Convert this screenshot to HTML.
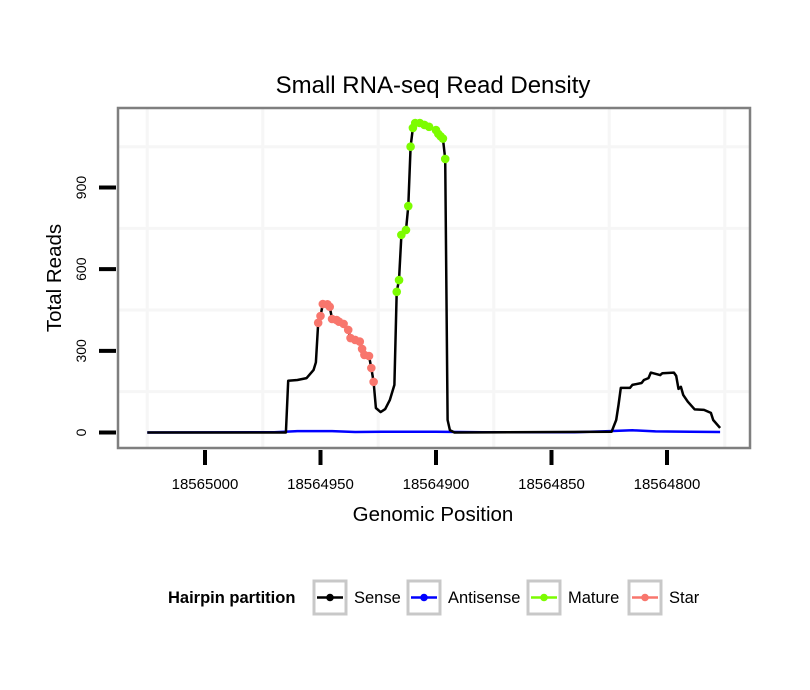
<!DOCTYPE html>
<html><head><meta charset="utf-8">
<style>
html,body{margin:0;padding:0;background:#fff;}
svg{display:block;font-family:"Liberation Sans",sans-serif;}
</style></head>
<body>
<svg id="chart" width="810" height="690" viewBox="0 0 810 690">
<rect x="0" y="0" width="810" height="690" fill="#fff"/>
<text x="433" y="93" text-anchor="middle" font-size="24" fill="#000">Small RNA-seq Read Density</text>
<rect x="118" y="108" width="632" height="340" fill="#fff"/>
<g id="grid"></g>
<g id="series"></g>
<rect x="118" y="108" width="632" height="340" fill="none" stroke="#7f7f7f" stroke-width="2.5"/>
<g id="axes"></g>
<text x="433" y="521" text-anchor="middle" font-size="20.5">Genomic Position</text>
<text transform="translate(61,278) rotate(-90)" text-anchor="middle" font-size="20.5">Total Reads</text>
<g id="legend">
<text x="168" y="603" font-size="16.5" font-weight="bold">Hairpin partition</text>
</g>
</svg>
<script>
const xTicks = [18565000, 18564950, 18564900, 18564850, 18564800];
const xMinor = [18565025, 18564975, 18564925, 18564875, 18564825, 18564775];
const yTicks = [0, 300, 600, 900];
const yMinor = [150, 450, 750, 1050];
const sensePos = [18565025,18564965,18564964,18564960,18564956,18564953,18564952,18564951,18564950,18564949,18564947,18564946,18564945,18564943,18564942,18564940,18564938,18564937,18564935,18564933,18564932,18564931,18564929,18564928,18564927,18564926,18564924,18564922,18564920,18564918,18564917,18564916,18564915,18564913,18564912,18564911,18564910,18564909,18564907,18564905,18564903,18564900,18564899,18564898,18564897,18564896,18564895,18564894,18564892,18564824,18564822,18564821,18564820,18564816,18564815,18564811,18564810,18564808,18564807,18564803,18564802,18564797,18564796,18564795,18564794,18564793,18564791,18564788,18564784,18564781,18564780,18564777];
const senseVal = [0,0,190,193,200,230,258,403,428,472,471,462,417,413,407,399,377,347,340,334,307,285,281,237,186,90,75,86,119,175,517,560,726,744,832,1050,1119,1137,1137,1130,1123,1111,1097,1088,1080,1005,46,9,0,3,46,101,164,164,175,182,193,200,220,211,218,220,208,160,168,138,113,85,83,72,46,17];
const antiPos = [18565025,18564970,18564960,18564945,18564935,18564920,18564900,18564880,18564840,18564825,18564815,18564805,18564790,18564777];
const antiVal = [0,1,5,5,2,3,3,1,1,5,8,4,3,2];
const starPos = [18564951,18564950,18564949,18564947,18564946,18564945,18564943,18564942,18564940,18564938,18564937,18564935,18564933,18564932,18564931,18564929,18564928,18564927];
const starVal = [403,428,472,471,462,417,413,407,399,377,347,340,334,307,285,281,237,186];
const maturePos = [18564917,18564916,18564915,18564913,18564912,18564911,18564910,18564909,18564907,18564905,18564903,18564900,18564899,18564898,18564897,18564896];
const matureVal = [517,560,726,744,832,1050,1119,1137,1137,1130,1123,1111,1097,1088,1080,1005];

const NS = "http://www.w3.org/2000/svg";
function xS(p){ return 205 + (18565000 - p) * 2.31; }
function yS(v){ return 432.5 - v * 0.2722; }
function mk(tag, attrs, parent){ const e = document.createElementNS(NS, tag); for (const k in attrs) e.setAttribute(k, attrs[k]); parent.appendChild(e); return e; }
const grid = document.getElementById('grid'), series = document.getElementById('series'), axes = document.getElementById('axes'), legend = document.getElementById('legend');

yMinor.forEach(v => { const l = mk('line', {x1:119, x2:749, y1:yS(v), y2:yS(v), stroke:'#f6f6f6', 'stroke-width':3}, grid);
  
   });
xMinor.forEach(p => { const l = mk('line', {x1:xS(p), x2:xS(p), y1:109, y2:447, stroke:'#f6f6f6', 'stroke-width':3}, grid);
  
   });

function path(pos, val, color, name){
  const d = pos.map((p,i) => (i?'L':'M') + xS(p).toFixed(1) + ',' + yS(val[i]).toFixed(1)).join(' ');
  const e = mk('path', {d:d, fill:'none', stroke:color, 'stroke-width':2.5, 'stroke-linejoin':'round'}, series);
  
  
}
path(antiPos, antiVal, '#0000ff', 'antisense-line');
path(sensePos, senseVal, '#000', 'sense-line');
function pts(pos, val, color, name){
  pos.forEach((p,i) => { const c = mk('circle', {cx:xS(p), cy:yS(val[i]), r:4.3, fill:color}, series);
    
     });
}
pts(starPos, starVal, '#f8766d', 'star-point');
pts(maturePos, matureVal, '#7cfc00', 'mature-point');

yTicks.forEach(v => {
  const t = mk('line', {x1:99, x2:116, y1:yS(v), y2:yS(v), stroke:'#000', 'stroke-width':4}, axes);
  
  
  const tx = mk('text', {transform:'translate(86,' + yS(v) + ') rotate(-90)', 'text-anchor':'middle', 'font-size':14}, axes);
  tx.textContent = String(v);
  
  
});
xTicks.forEach(p => {
  const t = mk('line', {x1:xS(p), x2:xS(p), y1:450, y2:465, stroke:'#000', 'stroke-width':4}, axes);
  
  
  const tx = mk('text', {x:xS(p), y:489, 'text-anchor':'middle', 'font-size':15}, axes);
  tx.textContent = String(p);
  
  
});

const legNames = ['Sense', 'Antisense', 'Mature', 'Star'];
const legColors = ['#000', '#0000ff', '#7cfc00', '#f8766d'];
const legBoxX = [314, 408, 528, 629];
legNames.forEach((n,i) => {
  const bx = legBoxX[i];
  const b = mk('rect', {x:bx, y:581, width:32, height:33, fill:'#fff', stroke:'#c8c8c8', 'stroke-width':3}, legend);
  
  
  mk('line', {x1:bx+3, x2:bx+29, y1:597.5, y2:597.5, stroke:legColors[i], 'stroke-width':2.5}, legend);
  mk('circle', {cx:bx+16, cy:597.5, r:3.8, fill:legColors[i]}, legend);
  const t = mk('text', {x:bx+40, y:603, 'font-size':16.5}, legend);
  t.textContent = n;
  
  
});
</script>
</body></html>
